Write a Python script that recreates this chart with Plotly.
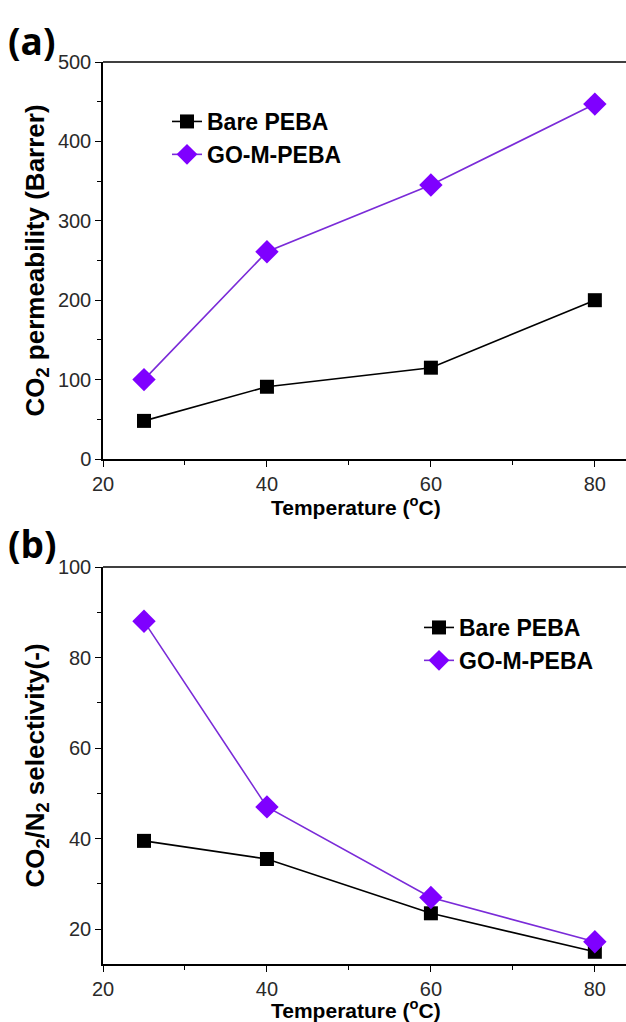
import plotly.graph_objects as go

temps = [25, 40, 60, 80]
perm_bare = [48, 91, 115, 200]
perm_go = [100, 261, 345, 447]
sel_bare = [39.5, 35.5, 23.5, 15.0]
sel_go = [88, 47, 27, 17.2]

names = ["Bare PEBA", "GO-M-PEBA"]
xtitle = "Temperature (<sup>o</sup>C)"
ytitle_a = "CO<sub>2</sub> permeability (Barrer)"
ytitle_b = "CO<sub>2</sub>/N<sub>2</sub> selectivity(-)"

purple = "#7F00FF"
line_purple = "#7A2BD8"
FAM = "Liberation Sans"
W, H = 626, 1022

fig = go.Figure()

def add(x, y, xa, ya, name, color, lcolor, symbol, size, legend):
    fig.add_trace(go.Scatter(
        x=x, y=y, xaxis=xa, yaxis=ya, name=name, legend=legend,
        mode="lines+markers",
        line=dict(color=lcolor, width=1.6),
        marker=dict(symbol=symbol, size=size, color=color, line=dict(width=0)),
    ))

add(temps, perm_bare, "x", "y", names[0], "black", "black", "square", 14, "legend")
add(temps, perm_go, "x", "y", names[1], purple, line_purple, "diamond", 18, "legend")
add(temps, sel_bare, "x2", "y2", names[0], "black", "black", "square", 14, "legend2")
add(temps, sel_go, "x2", "y2", names[1], purple, line_purple, "diamond", 18, "legend2")

tickfont = dict(family=FAM, size=20, color="#2a2a2a")
ytitlefont = dict(family=FAM, size=26, color="black", weight="bold")
xtitlefont = dict(family=FAM, size=21, color="black", weight="bold")
legfont = dict(family=FAM, size=23, color="black", weight="bold")

xdom = [103 / W, 1.0]
dom_a = [1 - 459 / H, 1 - 62 / H]
dom_b = [1 - 964 / H, 1 - 567 / H]

def xaxis(anchor):
    return dict(
        domain=xdom, anchor=anchor, range=[20, 83.8], showline=True, linecolor="black",
        linewidth=1.5, ticks="outside", ticklen=6, tickwidth=1.2, tickcolor="black",
        tick0=20, dtick=20, showgrid=False, zeroline=False, tickfont=tickfont,
        automargin=False,
        minor=dict(ticks="outside", ticklen=4, tickwidth=1.2, tickcolor="black", dtick=10, tick0=20),
    )

def yaxis(anchor, dom, rng, dtick, mdtick, title):
    return dict(
        domain=dom, anchor=anchor, range=rng, showline=True, linecolor="black",
        linewidth=1.5, ticks="outside", ticklen=6, tickwidth=1.2, tickcolor="black",
        tick0=0, dtick=dtick, showgrid=False, zeroline=False, tickfont=tickfont,
        automargin=False,
        minor=dict(ticks="outside", ticklen=4, tickwidth=1.2, tickcolor="black", dtick=mdtick, tick0=0),
        title=dict(text=title, font=ytitlefont, standoff=6),
    )

fig.update_layout(
    width=W, height=H,
    margin=dict(l=0, r=0, t=0, b=0, autoexpand=False),
    paper_bgcolor="white", plot_bgcolor="white",
    xaxis=xaxis("y"),
    yaxis=yaxis("x", dom_a, [0, 500], 100, 50, ytitle_a),
    xaxis2=xaxis("y2"),
    yaxis2=yaxis("x2", dom_b, [12.3, 100], 20, 10, ytitle_b),
    legend=dict(x=167 / W, y=1 - 100 / H, xanchor="left", yanchor="top",
                bgcolor="rgba(0,0,0,0)", font=legfont, tracegroupgap=0, itemwidth=30),
    legend2=dict(x=419 / W, y=1 - 606 / H, xanchor="left", yanchor="top",
                 bgcolor="rgba(0,0,0,0)", font=legfont, tracegroupgap=0, itemwidth=30),
    showlegend=True,
    shapes=[
        dict(type="line", xref="x domain", yref="y domain", x0=0, x1=1, y0=1, y1=1,
             line=dict(color="black", width=1.5)),
        dict(type="line", xref="x2 domain", yref="y2 domain", x0=0, x1=1, y0=1, y1=1,
             line=dict(color="black", width=1.5)),
    ],
    annotations=[
        dict(text="(a)", x=6 / W, y=1 - 41 / H, xref="paper", yref="paper",
             xanchor="left", yanchor="middle", showarrow=False,
             font=dict(family="Open Sans", size=37, color="black", weight="bold")),
        dict(text="(b)", x=6 / W, y=1 - 543 / H, xref="paper", yref="paper",
             xanchor="left", yanchor="middle", showarrow=False,
             font=dict(family="Open Sans", size=37, color="black", weight="bold")),
        dict(text=xtitle, x=356 / W, y=1 - 506 / H, xref="paper", yref="paper",
             xanchor="center", yanchor="middle", showarrow=False, font=xtitlefont),
        dict(text=xtitle, x=356 / W, y=1 - 1009 / H, xref="paper", yref="paper",
             xanchor="center", yanchor="middle", showarrow=False, font=xtitlefont),
    ],
)

fig.write_html("out.html")
